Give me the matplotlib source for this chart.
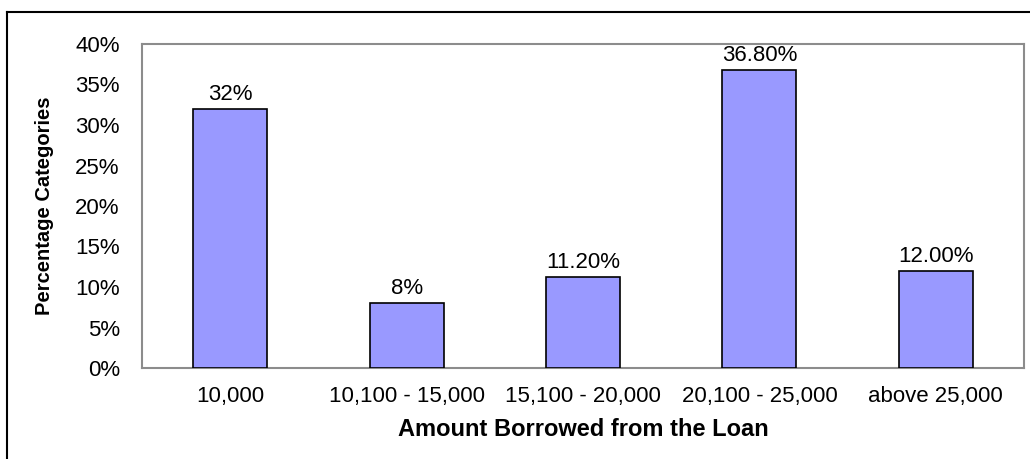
import matplotlib
matplotlib.use("Agg")
import matplotlib.pyplot as plt
from matplotlib.lines import Line2D
from matplotlib.ticker import FuncFormatter

plt.rcParams['font.family'] = ['Liberation Sans', 'DejaVu Sans']

categories = ["10,000", "10,100 - 15,000", "15,100 - 20,000", "20,100 - 25,000", "above 25,000"]
values = [32.0, 8.0, 11.2, 36.8, 12.0]
value_labels = ["32%", "8%", "11.20%", "36.80%", "12.00%"]
y_ticks = [0, 5, 10, 15, 20, 25, 30, 35, 40]

fig = plt.figure(figsize=(10.30, 4.59), dpi=100)
ax = fig.add_axes([142/1030, 91/459, (1024-142)/1030, (368-44)/459])

x = list(range(len(categories)))
bars = ax.bar(x, values, width=0.42, color="#9999FF", edgecolor="black", linewidth=1.2, zorder=3)

for rect, lab in zip(bars, value_labels):
    ax.annotate(lab, (rect.get_x() + rect.get_width()/2, rect.get_height()),
                xytext=(0, 3), textcoords="offset points", ha="center", va="bottom",
                fontsize=16)

ax.set_xlim(-0.5, len(categories) - 0.5)
ax.set_ylim(0, 40)
ax.set_yticks(y_ticks)
ax.yaxis.set_major_formatter(FuncFormatter(lambda v, p: f"{int(v)}%"))
ax.set_xticks(x)
ax.set_xticklabels(categories)
ax.tick_params(axis="both", length=0, labelsize=16)
ax.tick_params(axis="y", pad=16)
ax.tick_params(axis="x", pad=13)

for s in ax.spines.values():
    s.set_color("#8c8c8c")
    s.set_linewidth(1.5)

ax.set_xlabel("Amount Borrowed from the Loan", fontsize=17, fontweight="bold", va="center")
ax.xaxis.set_label_coords(0.5, (368 - 429) / 324)
ax.set_ylabel("Percentage Categories", fontsize=14.5, fontweight="bold", va="center")
ax.yaxis.set_label_coords((45 - 142) / 882, 0.5)

# outer chart border (top and left visible)
fig.add_artist(Line2D([7/1030, 1.0], [1 - 12/459, 1 - 12/459], color="black", linewidth=1.5, transform=fig.transFigure))
fig.add_artist(Line2D([7/1030, 7/1030], [0.0, 1 - 12/459], color="black", linewidth=1.5, transform=fig.transFigure))

fig.savefig("out.png", dpi=100)
